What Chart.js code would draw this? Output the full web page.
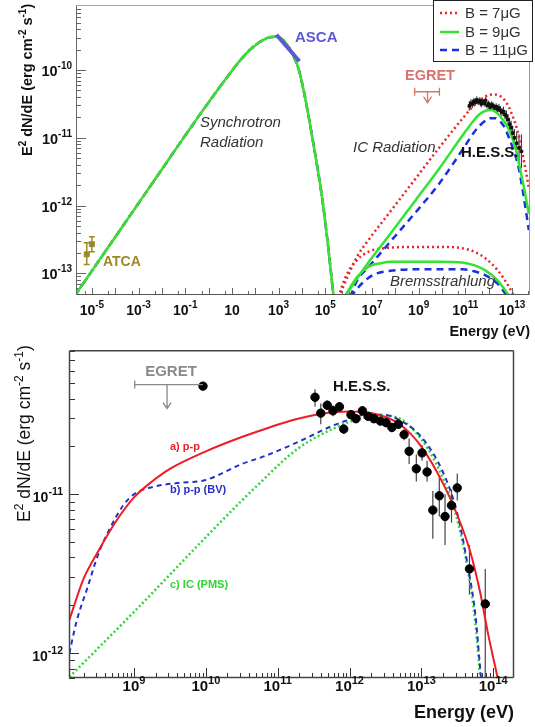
<!DOCTYPE html>
<html>
<head>
<meta charset="utf-8">
<script src="https://cdn.jsdelivr.net/npm/chart.js@4.4.1/dist/chart.umd.min.js"></script>
<style>
  html, body { margin: 0; padding: 0; background: #fff; }
  #topBox { position: absolute; left: 0; top: 0; width: 535px; height: 345px; }
  #botBox { position: absolute; left: 0; top: 345px; width: 535px; height: 382px; }
</style>
</head>
<body>
<div id="topBox"><canvas id="topChart" width="535" height="345"></canvas></div>
<div id="botBox"><canvas id="botChart" width="535" height="382"></canvas></div>
<script>
// ---- data (log10 of energy in eV, log10 of E^2 dN/dE) ----

// top panel: synchrotron (the three B curves coincide here)
const synE = [-5.73, -5.13, -4.13, -3.13, -2.13, -1.13, -0.13, 0.87, 1.37, 1.87, 2.37, 2.62, 2.87, 3.12, 3.37, 3.62, 3.87, 4.12, 4.37, 4.62, 4.87, 5.12, 5.37];
const synF = [-13.33, -13.03, -12.53, -12.03, -11.53, -11.03, -10.54, -10.07, -9.85, -9.67, -9.55, -9.515, -9.51, -9.54, -9.63, -9.78, -10.0, -10.38, -10.85, -11.35, -11.9, -12.6, -13.4];

// top panel: inverse Compton
const icE7 = [5.57, 6.37, 6.87, 7.87, 8.87, 9.87, 10.87, 11.37, 11.62, 11.87, 12.07, 12.27, 12.47, 12.67, 12.87, 13.07, 13.22, 13.37, 13.52, 13.72];
const icF7 = [-13.35, -12.75, -12.5, -12.05, -11.6, -11.15, -10.72, -10.52, -10.45, -10.39, -10.365, -10.36, -10.38, -10.44, -10.55, -10.72, -10.88, -11.1, -11.36, -11.74];
const icE9 = [5.82, 6.87, 7.87, 8.87, 9.87, 10.87, 11.37, 11.62, 11.87, 12.12, 12.37, 12.62, 12.87, 13.12, 13.34, 13.52, 13.72];
const icF9 = [-13.35, -12.83, -12.38, -11.92, -11.46, -10.97, -10.74, -10.65, -10.6, -10.59, -10.64, -10.74, -10.88, -11.12, -11.45, -11.75, -12.12];
const icE11 = [6.07, 6.37, 6.87, 7.87, 8.87, 9.87, 10.87, 11.37, 11.62, 11.87, 12.07, 12.27, 12.47, 12.67, 12.87, 13.07, 13.27, 13.47, 13.72];
const icF11 = [-13.35, -13.1, -12.9, -12.5, -12.1, -11.68, -11.18, -10.92, -10.82, -10.745, -10.71, -10.71, -10.75, -10.84, -11.0, -11.19, -11.42, -11.8, -12.36];

// top panel: bremsstrahlung
const brE7 = [5.57, 5.87, 6.37, 6.87, 7.87, 8.87, 9.87, 10.87, 11.37, 11.87, 12.37, 12.87, 13.17];
const brF7 = [-13.35, -13.05, -12.8, -12.68, -12.62, -12.61, -12.61, -12.63, -12.68, -12.78, -12.95, -13.2, -13.4];
const brE9 = [5.82, 6.37, 6.87, 7.37, 7.87, 9.87, 10.87, 11.37, 11.87, 12.37, 12.92];
const brF9 = [-13.35, -13.05, -12.9, -12.85, -12.83, -12.83, -12.84, -12.88, -12.96, -13.1, -13.35];
const brE11 = [6.07, 6.57, 7.07, 7.87, 8.87, 10.87, 11.37, 11.87, 12.37, 12.82];
const brF11 = [-13.35, -13.15, -13.02, -12.96, -12.94, -12.94, -12.97, -13.03, -13.15, -13.35];

// top panel: measurements
const atcaE = [-5.22, -5.0];
const atcaF = [-12.72, -12.57];
const atcaLo = [-12.87, -12.68];
const atcaHi = [-12.55, -12.46];
const ascaE = [2.91, 3.89];
const ascaF = [-9.48, -9.87];
const hessTopE = [11.17, 11.24, 11.3, 11.37, 11.42, 11.49, 11.55, 11.62, 11.68, 11.74, 11.81, 11.87, 11.93, 12.0, 12.06, 12.13, 12.19, 12.25, 12.32, 12.38, 12.44, 12.51, 12.57, 12.63, 12.7, 12.76, 12.83, 12.9, 12.96, 13.03, 13.1, 13.2, 13.3, 13.4];
const hessTopF = [-10.53, -10.49, -10.5, -10.46, -10.48, -10.44, -10.47, -10.45, -10.5, -10.46, -10.49, -10.45, -10.52, -10.5, -10.55, -10.51, -10.53, -10.56, -10.54, -10.58, -10.56, -10.6, -10.62, -10.61, -10.66, -10.68, -10.73, -10.8, -10.85, -10.93, -11.0, -11.08, -11.15, -11.2];
const hessTopErr = [0.07, 0.06, 0.06, 0.05, 0.05, 0.05, 0.05, 0.05, 0.05, 0.05, 0.05, 0.05, 0.05, 0.05, 0.05, 0.05, 0.05, 0.05, 0.05, 0.06, 0.06, 0.06, 0.06, 0.07, 0.07, 0.08, 0.08, 0.09, 0.1, 0.11, 0.13, 0.16, 0.2, 0.25];
const egretTopE = [8.83, 9.89];
const egretTopF = -10.32;

const topXTicks = [-5, -3, -1, 1, 3, 5, 7, 9, 11, 13];
const topYTicks = [-13, -12, -11, -10];

// bottom panel: models
const ppE = [8.1, 8.3, 8.5, 8.75, 9.0, 9.25, 9.5, 10.0, 10.5, 10.82, 11.2, 11.6, 12.0, 12.4, 12.7, 13.0, 13.3, 13.5, 13.68, 13.82, 13.93, 14.06, 14.2];
const ppF = [-11.79, -11.53, -11.36, -11.17, -11.02, -10.92, -10.84, -10.73, -10.64, -10.59, -10.535, -10.495, -10.48, -10.5, -10.56, -10.7, -10.93, -11.13, -11.36, -11.62, -11.88, -12.15, -12.45];
const bvE = [8.1, 8.2, 8.35, 8.5, 8.67, 8.85, 9.0, 9.3, 9.6, 10.0, 10.5, 10.82, 11.29, 11.76, 12.0, 12.22, 12.45, 12.68, 13.0, 13.3, 13.5, 13.65, 13.75, 13.82, 13.86];
const bvF = [-12.0, -11.8, -11.59, -11.38, -11.21, -11.07, -11.0, -10.95, -10.93, -10.91, -10.81, -10.76, -10.67, -10.57, -10.53, -10.5, -10.5, -10.53, -10.64, -10.86, -11.12, -11.46, -11.75, -12.1, -12.3];
const pmsE = [8.1, 9.0, 10.0, 10.5, 10.82, 11.05, 11.29, 11.5, 11.76, 12.0, 12.22, 12.45, 12.68, 12.9, 13.1, 13.3, 13.5, 13.65, 13.75, 13.8, 13.84];
const pmsF = [-12.15, -11.74, -11.27, -11.04, -10.9, -10.8, -10.71, -10.65, -10.59, -10.545, -10.515, -10.505, -10.52, -10.6, -10.72, -10.9, -11.16, -11.48, -11.8, -12.05, -12.3];

// bottom panel: H.E.S.S. points
const hessE = [11.52, 11.6, 11.69, 11.77, 11.86, 11.92, 12.02, 12.09, 12.18, 12.26, 12.34, 12.43, 12.51, 12.59, 12.68, 12.76, 12.83, 12.93, 13.01, 13.08, 13.16, 13.25, 13.33, 13.42, 13.5, 13.67, 13.89];
const hessF = [-10.39, -10.49, -10.44, -10.475, -10.45, -10.59, -10.5, -10.525, -10.475, -10.51, -10.525, -10.54, -10.55, -10.58, -10.56, -10.625, -10.73, -10.84, -10.74, -10.86, -11.1, -11.01, -11.14, -11.07, -10.96, -11.47, -11.69];
const hessLo = [-10.45, -10.56, -10.47, -10.51, -10.48, -10.62, -10.52, -10.55, -10.5, -10.53, -10.545, -10.56, -10.57, -10.61, -10.58, -10.66, -10.81, -10.92, -10.79, -10.92, -11.28, -11.14, -11.32, -11.18, -11.04, -11.63, -12.3];
const hessHi = [-10.34, -10.43, -10.41, -10.44, -10.42, -10.56, -10.48, -10.5, -10.45, -10.49, -10.505, -10.52, -10.53, -10.55, -10.54, -10.59, -10.65, -10.75, -10.69, -10.79, -10.98, -10.89, -11.0, -10.97, -10.87, -11.32, -11.47];
const egretE = [9.01, 9.96];
const egretF = -10.31;
const egretDotE = [9.96];
const egretDotF = [-10.32];

const botXTicks = [9, 10, 11, 12, 13, 14];
const botYTicks = [-12, -11];

// ---- helpers ----
const FONT = 'Liberation Sans, Arial, sans-serif';
const pts = (E, F) => E.map((e, i) => ({x: 10 ** e, y: 10 ** F[i]}));

function curve(label, E, F, color, width, dash) {
  return {
    label: label, data: pts(E, F), showLine: true, borderColor: color, backgroundColor: color,
    borderWidth: width, borderDash: dash || [], pointRadius: 0, cubicInterpolationMode: 'monotone'
  };
}

function px(chart, e, f) {
  return [chart.scales.x.getPixelForValue(10 ** e), chart.scales.y.getPixelForValue(10 ** f)];
}

function clipArea(ctx, a) {
  ctx.beginPath();
  ctx.rect(a.left, a.top, a.right - a.left, a.bottom - a.top);
  ctx.clip();
}

// "10" with a real raised exponent
function drawPow(ctx, e, x, y, o) {
  const exp = e === 1 ? '' : String(e);
  ctx.font = 'bold ' + o.size + 'px ' + FONT;
  const wb = ctx.measureText('10').width;
  ctx.font = 'bold ' + o.sup + 'px ' + FONT;
  const we = exp ? ctx.measureText(exp).width : 0;
  const w = wb + we;
  let x0 = o.align === 'right' ? x - w : x - w / 2;
  ctx.font = 'bold ' + o.size + 'px ' + FONT;
  ctx.fillText('10', x0, y);
  if (exp) {
    ctx.font = 'bold ' + o.sup + 'px ' + FONT;
    ctx.fillText(exp, x0 + wb, y - o.raise);
  }
}

function drawTickLabels(chart, o) {
  const ctx = chart.ctx;
  const xs = chart.scales.x, ys = chart.scales.y;
  ctx.save();
  ctx.fillStyle = '#111';
  ctx.textBaseline = 'alphabetic';
  ctx.textAlign = 'left';
  xs.ticks.forEach((t, i) => {
    drawPow(ctx, Math.round(Math.log10(t.value)), xs.getPixelForTick(i), o.xBase, {size: o.xSize, sup: o.xSup, raise: o.xRaise});
  });
  ys.ticks.forEach((t, i) => {
    drawPow(ctx, Math.round(Math.log10(t.value)), o.yRight, ys.getPixelForTick(i) + o.yShift, {size: o.ySize, sup: o.ySup, raise: o.yRaise, align: 'right'});
  });
  ctx.restore();
}

// rotated axis title with superscripts; segments alternate normal / raised
function drawYTitle(chart, segs, x, yStart, size, weight) {
  const ctx = chart.ctx;
  const sup = Math.round(size * 0.68);
  ctx.save();
  ctx.translate(x, yStart);
  ctx.rotate(-Math.PI / 2);
  ctx.fillStyle = '#111';
  ctx.textBaseline = 'alphabetic';
  ctx.textAlign = 'left';
  let cx = 0;
  segs.forEach(s => {
    ctx.font = weight + ' ' + (s.sup ? sup : size) + 'px ' + FONT;
    ctx.fillText(s.t, cx, s.sup ? -size * 0.42 : 0);
    cx += ctx.measureText(s.t).width;
  });
  ctx.restore();
}
const yTitleSegs = [
  {t: 'E'}, {t: '2', sup: true}, {t: ' dN/dE (erg cm'}, {t: '-2', sup: true}, {t: ' s'}, {t: '-1', sup: true}, {t: ')'}
];

// inward tick marks along bottom and left edges
function drawInwardTicks(chart, o) {
  const ctx = chart.ctx, a = chart.chartArea;
  const xs = chart.scales.x, ys = chart.scales.y;
  ctx.save();
  ctx.strokeStyle = o.color;
  ctx.lineWidth = 1;
  const lx = Math.log10(xs.min), hx = Math.log10(xs.max);
  for (let d = Math.floor(lx); d <= Math.ceil(hx); d++) {
    o.xMinor.concat([1]).forEach(m => {
      const v = m * 10 ** d;
      if (v < xs.min || v > xs.max) return;
      const p = Math.round(xs.getPixelForValue(v)) + 0.5;
      const len = m === 1 ? o.xMajLen : o.xMinLen;
      ctx.beginPath(); ctx.moveTo(p, a.bottom); ctx.lineTo(p, a.bottom - len); ctx.stroke();
    });
  }
  const ly = Math.log10(ys.min), hy = Math.log10(ys.max);
  for (let d = Math.floor(ly); d <= Math.ceil(hy); d++) {
    o.yMinor.concat([1]).forEach(m => {
      const v = m * 10 ** d;
      if (v < ys.min || v > ys.max) return;
      const p = Math.round(ys.getPixelForValue(v)) + 0.5;
      const len = m === 1 ? o.yMajLen : o.yMinLen;
      ctx.beginPath(); ctx.moveTo(a.left, p); ctx.lineTo(a.left + len, p); ctx.stroke();
    });
  }
  ctx.restore();
}

function drawErrY(chart, E, lo, hi, color, cap, width) {
  const ctx = chart.ctx;
  ctx.save();
  clipArea(ctx, chart.chartArea);
  ctx.strokeStyle = color;
  ctx.lineWidth = width;
  E.forEach((e, i) => {
    const [x, y1] = px(chart, e, lo[i]);
    const y2 = px(chart, e, hi[i])[1];
    ctx.beginPath(); ctx.moveTo(x, y1); ctx.lineTo(x, y2);
    if (cap) {
      ctx.moveTo(x - cap, y1); ctx.lineTo(x + cap, y1);
      ctx.moveTo(x - cap, y2); ctx.lineTo(x + cap, y2);
    }
    ctx.stroke();
  });
  ctx.restore();
}

function drawUpperLimit(chart, E, f, arrowE, arrowLen, color, caps) {
  const ctx = chart.ctx;
  const [x1, y] = px(chart, E[0], f);
  const x2 = px(chart, E[1], f)[0];
  const xa = px(chart, arrowE, f)[0];
  ctx.save();
  ctx.strokeStyle = color;
  ctx.lineWidth = 1.3;
  ctx.beginPath();
  ctx.moveTo(x1, y); ctx.lineTo(x2, y);
  ctx.moveTo(x1, y - 4); ctx.lineTo(x1, y + 4);
  if (caps) { ctx.moveTo(x2, y - 4); ctx.lineTo(x2, y + 4); }
  ctx.moveTo(xa, y); ctx.lineTo(xa, y + arrowLen);
  ctx.moveTo(xa - 4, y + arrowLen - 6); ctx.lineTo(xa, y + arrowLen); ctx.lineTo(xa + 4, y + arrowLen - 6);
  ctx.stroke();
  ctx.restore();
}

function drawTexts(chart, list) {
  const ctx = chart.ctx;
  ctx.save();
  ctx.textBaseline = 'middle';
  list.forEach(t => {
    ctx.font = t.font;
    ctx.fillStyle = t.color;
    ctx.textAlign = t.align || 'left';
    ctx.fillText(t.text, t.x, t.y);
  });
  ctx.restore();
}

function drawFrame(chart, colors, width) {
  const ctx = chart.ctx, a = chart.chartArea;
  const l = a.left + 0.5, r = a.right - 0.5, t = a.top + 0.5, b = a.bottom - 0.5;
  ctx.save();
  ctx.lineWidth = width;
  [[l, b, r, b, colors.bottom], [l, t, l, b, colors.left], [l, t, r, t, colors.top], [r, t, r, b, colors.right]].forEach(s => {
    ctx.strokeStyle = s[4];
    ctx.beginPath(); ctx.moveTo(s[0], s[1]); ctx.lineTo(s[2], s[3]); ctx.stroke();
  });
  ctx.restore();
}

function logAxis(min, max, ticks, o) {
  return {
    type: 'logarithmic', min: 10 ** min, max: 10 ** max,
    grid: {display: false, drawTicks: false}, border: {display: false},
    ticks: {display: false, autoSkip: false},
    afterBuildTicks: s => { s.ticks = ticks.map(e => ({value: 10 ** e})); },
    afterFit: s => { if (o.width) s.width = o.width; if (o.height) s.height = o.height; },
    title: o.title || {display: false}
  };
}

const RED = '#ee2222', GREEN = '#33e233', BLUE = '#1a2fe0';

// ---- top chart ----
const topDeco = {
  id: 'topDeco',
  beforeDatasetsDraw(chart) {
    drawInwardTicks(chart, {color: '#666', xMinor: [5], xMajLen: 7, xMinLen: 4, yMinor: [2, 3, 4, 5, 6, 7, 8, 9], yMajLen: 10, yMinLen: 5});
    drawErrY(chart, atcaE, atcaLo, atcaHi, '#9a8a2a', 3, 1.5);
    drawErrY(chart, hessTopE, hessTopF.map((f, i) => f - hessTopErr[i]), hessTopF.map((f, i) => f + hessTopErr[i]), '#222', 0, 1);
  },
  afterDraw(chart) {
    drawFrame(chart, {bottom: '#555', left: '#666', top: '#aaa', right: '#999'}, 1);
    drawTickLabels(chart, {xBase: 315, xSize: 14, xSup: 10, xRaise: 7, yRight: 72, yShift: 6, ySize: 14.5, ySup: 10, yRaise: 7});
    drawYTitle(chart, yTitleSegs, 32, 156, 14.5, 'bold');
    drawUpperLimit(chart, egretTopE, egretTopF, 9.38, 11, '#d9736b', true);
    drawTexts(chart, [
      {text: 'Synchrotron', x: 200, y: 123, font: 'italic 15px ' + FONT, color: '#333'},
      {text: 'Radiation', x: 200, y: 143, font: 'italic 15px ' + FONT, color: '#333'},
      {text: 'IC Radiation', x: 353, y: 148, font: 'italic 15px ' + FONT, color: '#333'},
      {text: 'Bremsstrahlung', x: 390, y: 282, font: 'italic 15px ' + FONT, color: '#333'},
      {text: 'H.E.S.S.', x: 461, y: 153, font: 'bold 15px ' + FONT, color: '#111'},
      {text: 'ASCA', x: 295, y: 38, font: 'bold 15px ' + FONT, color: '#5a5ad8'},
      {text: 'ATCA', x: 103, y: 262, font: 'bold 14px ' + FONT, color: '#9a8a2a'},
      {text: 'EGRET', x: 430, y: 76, font: 'bold 14.5px ' + FONT, color: '#d9736b', align: 'center'}
    ]);
    // legend box
    const ctx = chart.ctx;
    ctx.save();
    ctx.fillStyle = '#fff';
    ctx.fillRect(433, 0, 100, 61);
    ctx.strokeStyle = '#222';
    ctx.lineWidth = 1;
    ctx.strokeRect(433.5, 0.5, 99, 61);
    const entries = [
      {label: 'B = 7μG', color: RED, dash: [2, 3], y: 13},
      {label: 'B = 9μG', color: GREEN, dash: [], y: 32},
      {label: 'B = 11μG', color: BLUE, dash: [7, 5], y: 50}
    ];
    entries.forEach(en => {
      ctx.strokeStyle = en.color;
      ctx.lineWidth = 2.5;
      ctx.setLineDash(en.dash);
      ctx.beginPath(); ctx.moveTo(440, en.y); ctx.lineTo(459, en.y); ctx.stroke();
      ctx.setLineDash([]);
      ctx.fillStyle = '#333';
      ctx.font = '15px ' + FONT;
      ctx.textBaseline = 'middle';
      ctx.fillText(en.label, 465, en.y + 1);
    });
    ctx.restore();
  }
};

new Chart(document.getElementById('topChart'), {
  type: 'scatter',
  data: {
    datasets: [
      {label: 'H.E.S.S.', data: pts(hessTopE, hessTopF), pointStyle: 'rect', pointRadius: 1.8, backgroundColor: '#111', borderColor: '#111'},
      {label: 'ATCA', data: pts(atcaE, atcaF), pointStyle: 'rect', pointRadius: 3.5, backgroundColor: '#9a8a2a', borderColor: '#9a8a2a'},
      {label: 'ASCA', data: pts(ascaE, ascaF), showLine: true, borderColor: '#5a5ad8', borderWidth: 4, pointRadius: 0},
      curve('B = 9μG', synE, synF, GREEN, 2.5),
      curve('B = 9μG IC', icE9, icF9, GREEN, 2.5),
      curve('B = 9μG brems', brE9, brF9, GREEN, 2.5),
      curve('B = 7μG', synE, synF, RED, 2.5, [2, 3]),
      curve('B = 7μG IC', icE7, icF7, RED, 2.5, [2, 3]),
      curve('B = 7μG brems', brE7, brF7, RED, 2.5, [2, 3]),
      curve('B = 11μG', synE, synF, BLUE, 2.5, [7, 5]),
      curve('B = 11μG IC', icE11, icF11, BLUE, 2.5, [7, 5]),
      curve('B = 11μG brems', brE11, brF11, BLUE, 2.5, [7, 5])
    ]
  },
  options: {
    responsive: false, animation: false,
    layout: {padding: {left: 0, top: 1, right: 2, bottom: 0}},
    plugins: {legend: {display: false}, tooltip: {enabled: false}},
    scales: {
      x: logAxis(-5.68, 13.77, topXTicks, {height: 50,
        title: {display: true, text: 'Energy (eV)', align: 'end', color: '#111', font: {family: FONT, weight: 'bold', size: 14.5}, padding: {top: 0, bottom: 4}}}),
      y: logAxis(-13.32, -9.04, topYTicks, {width: 76})
    }
  },
  plugins: [topDeco]
});

// ---- bottom chart ----
const botDeco = {
  id: 'botDeco',
  beforeDatasetsDraw(chart) {
    drawInwardTicks(chart, {color: '#333', xMinor: [2, 3, 4, 5, 6, 7, 8, 9], xMajLen: 10, xMinLen: 5, yMinor: [2, 3, 4, 5, 6, 7, 8, 9], yMajLen: 10, yMinLen: 6});
    drawErrY(chart, hessE, hessLo, hessHi, '#444', 0, 1.2);
  },
  afterDraw(chart) {
    drawFrame(chart, {bottom: '#444', left: '#444', top: '#444', right: '#444'}, 1.5);
    drawTickLabels(chart, {xBase: 346, xSize: 15, xSup: 11, xRaise: 7, yRight: 63, yShift: 8, ySize: 14, ySup: 10.5, yRaise: 7});
    drawYTitle(chart, yTitleSegs, 30, 177, 17.5, 'normal');
    drawUpperLimit(chart, egretE, egretF, 9.46, 24, '#888', false);
    drawTexts(chart, [
      {text: 'EGRET', x: 171, y: 27, font: 'bold 15px ' + FONT, color: '#8a8a8a', align: 'center'},
      {text: 'H.E.S.S.', x: 333, y: 42, font: 'bold 15px ' + FONT, color: '#111'},
      {text: 'a) p-p', x: 170, y: 102, font: 'bold 11px ' + FONT, color: '#ee1c24'},
      {text: 'b) p-p (BV)', x: 170, y: 145, font: 'bold 11px ' + FONT, color: '#2630c8'},
      {text: 'c) IC (PMS)', x: 170, y: 240, font: 'bold 11px ' + FONT, color: '#2fd62f'}
    ]);
  }
};

new Chart(document.getElementById('botChart'), {
  type: 'scatter',
  data: {
    datasets: [
      {label: 'H.E.S.S.', data: pts(hessE, hessF), pointRadius: 4.2, backgroundColor: '#000', borderColor: '#000'},
      {label: 'EGRET', data: pts(egretDotE, egretDotF), pointRadius: 4.2, backgroundColor: '#000', borderColor: '#000'},
      curve('a) p-p', ppE, ppF, '#ee1c24', 2),
      curve('b) p-p (BV)', bvE, bvF, '#2630c8', 2, [5, 4]),
      curve('c) IC (PMS)', pmsE, pmsF, '#2fd62f', 2.5, [2, 2.5])
    ]
  },
  options: {
    responsive: false, animation: false,
    layout: {padding: {left: 0, top: 3, right: 21, bottom: 0}},
    plugins: {legend: {display: false}, tooltip: {enabled: false}},
    scales: {
      x: logAxis(8.095, 14.29, botXTicks, {height: 49,
        title: {display: true, text: 'Energy (eV)', align: 'end', color: '#111', font: {family: FONT, weight: 'bold', size: 18}, padding: {top: 0, bottom: 3}}}),
      y: logAxis(-12.156, -10.094, botYTicks, {width: 69})
    }
  },
  plugins: [botDeco]
});
</script>
</body>
</html>
